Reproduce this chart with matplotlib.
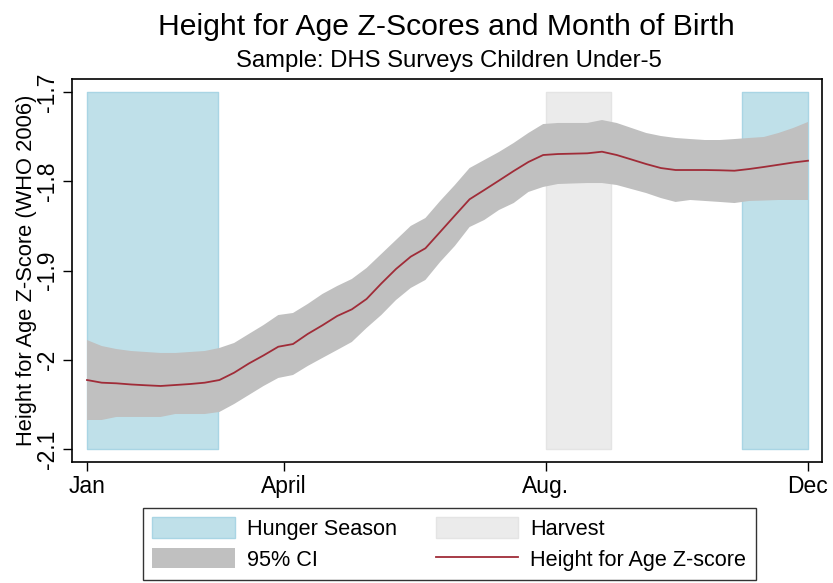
import numpy as np
import matplotlib
matplotlib.use("Agg")
import matplotlib.pyplot as plt
from matplotlib.patches import Patch
from matplotlib.lines import Line2D

plt.rcParams['font.family'] = ['Liberation Sans', 'DejaVu Sans']

# Month-of-birth positions (50 evenly spaced points from Jan=1 to Dec=12)
n_pts = 50
month_pos = 1 + np.arange(n_pts) * 11 / (n_pts - 1)

haz_mean = [-2.0227, -2.0257, -2.0264, -2.0277, -2.0286, -2.0294, -2.0283, -2.0272, -2.0257, -2.0227,
            -2.0145, -2.0042, -1.9951, -1.9854, -1.9824, -1.9711, -1.9614, -1.9510, -1.9435, -1.9319,
            -1.9146, -1.8983, -1.8845, -1.8751, -1.8568, -1.8384, -1.8202, -1.8098, -1.7992, -1.7885,
            -1.7784, -1.7706, -1.7695, -1.7691, -1.7687, -1.7669, -1.7706, -1.7756, -1.7807, -1.7852,
            -1.7874, -1.7874, -1.7874, -1.7877, -1.7882, -1.7863, -1.7840, -1.7815, -1.7790, -1.7770]

ci_upper = [-1.9779, -1.9846, -1.9880, -1.9902, -1.9913, -1.9924, -1.9924, -1.9913, -1.9902, -1.9868,
            -1.9812, -1.9711, -1.9611, -1.9499, -1.9476, -1.9375, -1.9263, -1.9174, -1.9095, -1.8972,
            -1.8815, -1.8658, -1.8501, -1.8412, -1.8221, -1.8042, -1.7852, -1.7762, -1.7672, -1.7571,
            -1.7459, -1.7359, -1.7347, -1.7347, -1.7347, -1.7314, -1.7347, -1.7403, -1.7459, -1.7493,
            -1.7515, -1.7527, -1.7538, -1.7538, -1.7527, -1.7515, -1.7504, -1.7459, -1.7403, -1.7336]

ci_lower = [-2.0675, -2.0675, -2.0641, -2.0641, -2.0641, -2.0641, -2.0608, -2.0608, -2.0608, -2.0585,
            -2.0496, -2.0395, -2.0294, -2.0204, -2.0171, -2.0070, -1.9980, -1.9891, -1.9801, -1.9644,
            -1.9499, -1.9331, -1.9196, -1.9106, -1.8905, -1.8725, -1.8513, -1.8434, -1.8322, -1.8244,
            -1.8120, -1.8064, -1.8031, -1.8025, -1.8020, -1.8020, -1.8042, -1.8087, -1.8132, -1.8188,
            -1.8232, -1.8210, -1.8221, -1.8232, -1.8244, -1.8221, -1.8216, -1.8210, -1.8210, -1.8210]

hunger_periods = [(1, 3), (11, 12)]
harvest_periods = [(8, 9)]
band_bottom, band_top = -2.1, -1.7

x_ticks = [1, 4, 8, 12]
x_labels = ["Jan", "April", "Aug.", "Dec"]
y_ticks = [-2.1, -2.0, -1.9, -1.8, -1.7]
y_labels = ["-2.1", "-2", "-1.9", "-1.8", "-1.7"]

hunger_face = "#bfe0e9"
hunger_edge = "#a9d5e4"
harvest_face = "#ebebeb"
harvest_edge = "#e4e4e4"
ci_color = "#c0c0c0"
line_color = "#a02c38"

fig = plt.figure(figsize=(8.33, 5.83), dpi=100)
ax = fig.add_axes([72/833, 1 - 462/583, (822-72)/833, (462-79)/583])

for a, b in hunger_periods:
    ax.fill_between([a, b], band_bottom, band_top, facecolor=hunger_face,
                    edgecolor=hunger_edge, linewidth=1.0, zorder=1)
for a, b in harvest_periods:
    ax.fill_between([a, b], band_bottom, band_top, facecolor=harvest_face,
                    edgecolor=harvest_edge, linewidth=1.0, zorder=1)

ax.fill_between(month_pos, ci_lower, ci_upper, facecolor=ci_color, edgecolor='none', zorder=2)
ax.plot(month_pos, haz_mean, color=line_color, linewidth=1.3, zorder=3)

ax.set_xlim(1 - 15/65.545, 12 + 14/65.545)
ax.set_ylim(-2.1 - 13/892.5, -1.7 + 13/892.5)

ax.set_xticks(x_ticks)
ax.set_xticklabels(x_labels, fontsize=16.5)
ax.set_yticks(y_ticks)
ax.set_yticklabels(y_labels, fontsize=16.5, rotation=90, va='center')
ax.tick_params(axis='both', length=6.5, width=1.0, color='black')
ax.tick_params(axis='x', pad=3)
ax.tick_params(axis='y', pad=3)
for s in ax.spines.values():
    s.set_linewidth(1.2)
    s.set_color('black')

ax.set_ylabel("Height for Age Z-Score (WHO 2006)", fontsize=15.75, labelpad=-1)

fig.text(446/833, 1 - 27/583, "Height for Age Z-Scores and Month of Birth",
         ha='center', va='center', fontsize=21.7)
fig.text(449/833, 1 - 61/583, "Sample: DHS Surveys Children Under-5",
         ha='center', va='center', fontsize=17.2)

handles = [
    Patch(facecolor=hunger_face, edgecolor=hunger_edge, linewidth=1.0),
    Patch(facecolor=ci_color, edgecolor='none'),
    Patch(facecolor=harvest_face, edgecolor=harvest_edge, linewidth=1.0),
    Line2D([0], [0], color=line_color, linewidth=1.3),
]
labels = ["Hunger Season", "95% CI", "Harvest", "Height for Age Z-score"]
leg = fig.legend(handles, labels, ncol=2, loc='center',
                 bbox_to_anchor=(449/833, 1 - 544/583), fontsize=15.6,
                 frameon=True, fancybox=False, edgecolor='black',
                 handlelength=3.8, handleheight=1.06, handletextpad=0.55,
                 columnspacing=1.8, labelspacing=0.37, borderpad=0.45,
                 borderaxespad=0)
leg.get_frame().set_linewidth(1.0)

fig.savefig("out.png", dpi=100)
